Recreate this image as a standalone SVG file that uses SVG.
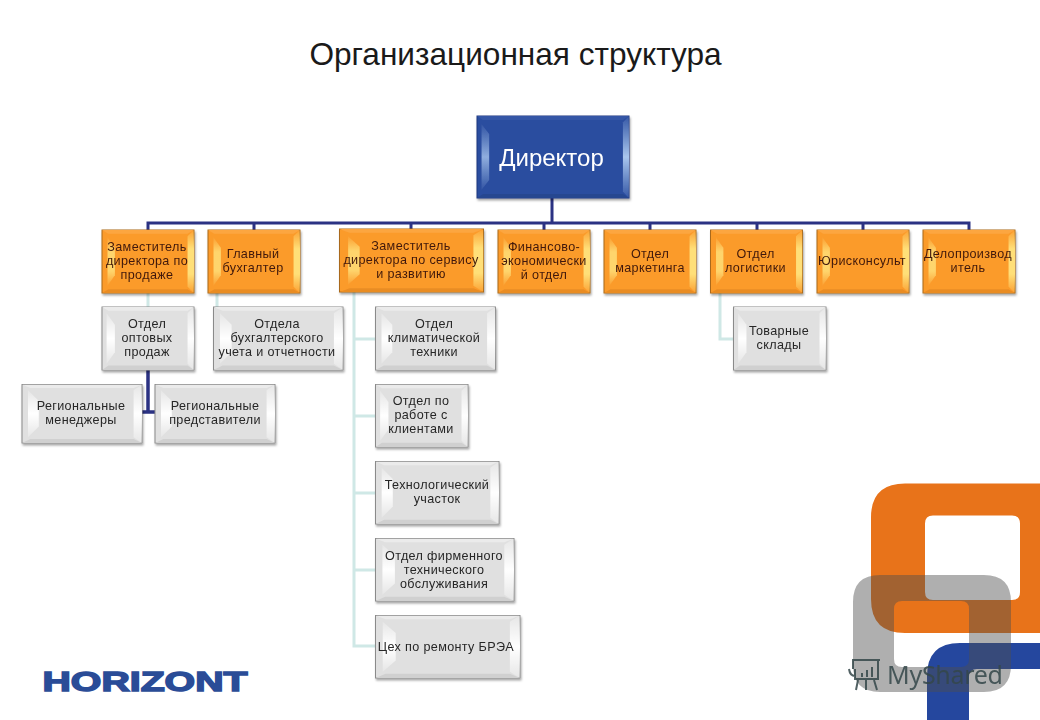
<svg xmlns="http://www.w3.org/2000/svg" xmlns:xlink="http://www.w3.org/1999/xlink" width="1040" height="720" viewBox="0 0 1040 720">
<style>
text{font-family:"Liberation Sans",Arial,sans-serif;text-anchor:middle}
.o{font-size:12.6px;fill:#40190a;letter-spacing:.35px}
.g{font-size:12.6px;fill:#262626;letter-spacing:.35px}
.bo{fill:#fb9b2c;stroke:#a9691c;stroke-width:1}
.bg{fill:#e0e0e0;stroke:#8a8a8a;stroke-width:1}
.bb{fill:#2b4d9f;stroke:#1f3a80;stroke-width:1}
.dark{fill:none;stroke:#2b3283;stroke-width:3}
.lite{fill:none;stroke:#cfe8e6;stroke-width:3}
</style>
<defs>
<filter id="sh" x="-10%" y="-10%" width="120%" height="125%"><feDropShadow dx="1" dy="2" stdDeviation="1.2" flood-color="#000" flood-opacity=".35"/></filter>
<linearGradient id="lo" x1="0" y1="0" x2="0" y2="1"><stop offset="0" stop-color="#ffdf78" stop-opacity=".1"/><stop offset=".3" stop-color="#ffdf78"/><stop offset=".7" stop-color="#ffdf78"/><stop offset="1" stop-color="#ffdf78" stop-opacity=".1"/></linearGradient>
<linearGradient id="lg" x1="0" y1="0" x2="0" y2="1"><stop offset="0" stop-color="#fff" stop-opacity=".2"/><stop offset=".5" stop-color="#fff"/><stop offset="1" stop-color="#fff" stop-opacity=".2"/></linearGradient>
<linearGradient id="lb" x1="0" y1="0" x2="0" y2="1"><stop offset="0" stop-color="#9fc0ea" stop-opacity=".1"/><stop offset=".5" stop-color="#a9c6ee"/><stop offset="1" stop-color="#9fc0ea" stop-opacity=".1"/></linearGradient>
<symbol id="vo" viewBox="0 0 100 100" preserveAspectRatio="none">
<polygon points="0,0 100,0 93,6 7,6" fill="#fca640"/><polygon points="0,100 100,100 93,94 7,94" fill="#e98c24"/>
<polygon points="100,0 100,100 93,90 93,10" fill="url(#lo)"/><polygon points="6,12 14,28 14,72 6,88" fill="url(#lo)" opacity=".85"/>
</symbol>
<symbol id="vg" viewBox="0 0 100 100" preserveAspectRatio="none">
<polygon points="0,0 100,0 93,6 7,6" fill="#ebebeb"/><polygon points="0,100 100,100 93,93 7,93" fill="#d0d0d0"/>
<polygon points="100,0 100,100 93,90 93,10" fill="url(#lg)"/><polygon points="5,10 14,28 14,72 5,90" fill="url(#lg)"/>
</symbol>
<symbol id="vb" viewBox="0 0 100 100" preserveAspectRatio="none">
<polygon points="0,0 100,0 96,5 4,5" fill="#3557a6"/><polygon points="0,100 100,100 96,95 4,95" fill="#264690"/>
<polygon points="100,0 100,100 96,92 96,8" fill="url(#lb)"/><polygon points="3,10 8,22 8,78 3,90" fill="url(#lb)" opacity=".8"/>
</symbol>
</defs>
<rect width="1040" height="720" fill="#fff"/>
<text x="515.500" y="65" font-size="31.600" fill="#1a1a1a">Организационная структура</text>

<g id="connectors">
<path class="lite" d="M148 293V307M217 293V307M354 292V646H375M354 339H375M354 416H375M354 493H375M354 570H375M720 293V339H733"/>
<path class="dark" d="M552 198V223M148 230V223H969V230M254 223V230M411 223V229M544 223V230M650 223V230M757 223V230M863 223V230"/>
<path class="dark" d="M148 370V412M142 412H155" style="stroke-width:3.500"/>
</g>

<g id="director" filter="url(#sh)"><rect class="bb" x="477" y="116" width="152" height="82"/><use href="#vb" x="477" y="116" width="152" height="82"/><text x="551.500" y="166" font-size="24" fill="#fff">Директор</text></g>

<g id="n1" filter="url(#sh)"><rect class="bo" x="102" y="230" width="92" height="63"/><use href="#vo" x="102" y="230" width="92" height="63"/><text class="o" x="147" y="251">Заместитель</text><text class="o" x="147" y="265">директора по</text><text class="o" x="147" y="279">продаже</text></g>
<g id="n2" filter="url(#sh)"><rect class="bo" x="208" y="230" width="92" height="63"/><use href="#vo" x="208" y="230" width="92" height="63"/><text class="o" x="253" y="258">Главный</text><text class="o" x="253" y="272">бухгалтер</text></g>
<g id="n3" filter="url(#sh)"><rect class="bo" x="339.500" y="229" width="144" height="63"/><use href="#vo" x="339.500" y="229" width="144" height="63"/><text class="o" x="411" y="250">Заместитель</text><text class="o" x="411" y="264">директора по сервису</text><text class="o" x="411" y="278">и развитию</text></g>
<g id="n4" filter="url(#sh)"><rect class="bo" x="498" y="230" width="92" height="63"/><use href="#vo" x="498" y="230" width="92" height="63"/><text class="o" x="544" y="251">Финансово-</text><text class="o" x="544" y="265">экономически</text><text class="o" x="544" y="279">й отдел</text></g>
<g id="n5" filter="url(#sh)"><rect class="bo" x="604" y="230" width="92" height="63"/><use href="#vo" x="604" y="230" width="92" height="63"/><text class="o" x="650" y="258">Отдел</text><text class="o" x="650" y="272">маркетинга</text></g>
<g id="n6" filter="url(#sh)"><rect class="bo" x="710.500" y="230" width="92" height="63"/><use href="#vo" x="710.500" y="230" width="92" height="63"/><text class="o" x="755.500" y="258">Отдел</text><text class="o" x="755.500" y="272">логистики</text></g>
<g id="n7" filter="url(#sh)"><rect class="bo" x="817" y="230" width="92" height="63"/><use href="#vo" x="817" y="230" width="92" height="63"/><text class="o" x="862" y="265">Юрисконсульт</text></g>
<g id="n8" filter="url(#sh)"><rect class="bo" x="923" y="230" width="92" height="63"/><use href="#vo" x="923" y="230" width="92" height="63"/><text class="o" x="968" y="258">Делопроизвод</text><text class="o" x="968" y="272">итель</text></g>

<g id="n9" filter="url(#sh)"><rect class="bg" x="102" y="307" width="92" height="63"/><use href="#vg" x="102" y="307" width="92" height="63"/><text class="g" x="147" y="328">Отдел</text><text class="g" x="147" y="342">оптовых</text><text class="g" x="147" y="356">продаж</text></g>
<g id="n10" filter="url(#sh)"><rect class="bg" x="213.500" y="307" width="129.500" height="63"/><use href="#vg" x="213.500" y="307" width="129.500" height="63"/><text class="g" x="277" y="328">Отдела</text><text class="g" x="277" y="342">бухгалтерского</text><text class="g" x="277" y="356">учета и отчетности</text></g>
<g id="n11" filter="url(#sh)"><rect class="bg" x="22" y="384.500" width="120" height="58.500"/><use href="#vg" x="22" y="384.500" width="120" height="58.500"/><text class="g" x="81" y="410">Региональные</text><text class="g" x="81" y="424">менеджеры</text></g>
<g id="n12" filter="url(#sh)"><rect class="bg" x="155" y="384.500" width="120" height="58.500"/><use href="#vg" x="155" y="384.500" width="120" height="58.500"/><text class="g" x="215" y="410">Региональные</text><text class="g" x="215" y="424">представители</text></g>
<g id="n13" filter="url(#sh)"><rect class="bg" x="375.500" y="307" width="120" height="63"/><use href="#vg" x="375.500" y="307" width="120" height="63"/><text class="g" x="434" y="328">Отдел</text><text class="g" x="434" y="342">климатической</text><text class="g" x="434" y="356">техники</text></g>
<g id="n14" filter="url(#sh)"><rect class="bg" x="375.500" y="384.500" width="92.500" height="62.500"/><use href="#vg" x="375.500" y="384.500" width="92.500" height="62.500"/><text class="g" x="421" y="405">Отдел по</text><text class="g" x="421" y="419">работе с</text><text class="g" x="421" y="433">клиентами</text></g>
<g id="n15" filter="url(#sh)"><rect class="bg" x="375.500" y="461.500" width="123.500" height="62.500"/><use href="#vg" x="375.500" y="461.500" width="123.500" height="62.500"/><text class="g" x="437" y="489">Технологический</text><text class="g" x="437" y="503">участок</text></g>
<g id="n16" filter="url(#sh)"><rect class="bg" x="375.500" y="538.500" width="138.500" height="62.500"/><use href="#vg" x="375.500" y="538.500" width="138.500" height="62.500"/><text class="g" x="444" y="560">Отдел фирменного</text><text class="g" x="444" y="574">технического</text><text class="g" x="444" y="588">обслуживания</text></g>
<g id="n17" filter="url(#sh)"><rect class="bg" x="375.500" y="615.500" width="144.500" height="62.500"/><use href="#vg" x="375.500" y="615.500" width="144.500" height="62.500"/><text class="g" x="446" y="651">Цех по ремонту БРЭА</text></g>
<g id="n18" filter="url(#sh)"><rect class="bg" x="733.500" y="307" width="92.500" height="63"/><use href="#vg" x="733.500" y="307" width="92.500" height="63"/><text class="g" x="779" y="335">Товарные</text><text class="g" x="779" y="349">склады</text></g>

<g id="corner-logo">
<path fill-rule="evenodd" fill="#e8731a" d="M905 483.500H1040V633H905Q871 633 871 599V517.500Q871 483.500 905 483.500ZM933 515.500Q925 515.500 925 523.500V592Q925 600 933 600H1012Q1020 600 1020 592V523.500Q1020 515.500 1012 515.500Z"/>
<path fill="#25479e" d="M1040 643H960Q927 643 927 676V720H969V677Q969 669 977 669H1040Z"/>
<path fill-rule="evenodd" fill="#4d4d4d" opacity=".45" d="M880 575H984Q1011 575 1011 602V665Q1011 692 984 692H880Q853 692 853 665V602Q853 575 880 575ZM902 601Q894 601 894 609V659Q894 667 902 667H961Q969 667 969 659V609Q969 601 961 601Z"/>
</g>
<g id="watermark" fill="none" stroke="#34474a" stroke-width="2" opacity=".85">
<path d="M852 660H880M853 660V669M878 660V679H855V669M849 669Q850 676 855 676M862 673V677M867 670V677M872 667V677M858 680L856 690M866 680V690M874 680L877 690"/>
<text x="945" y="684" font-size="25" fill="#34474a" stroke="none" textLength="116" style="font-family:'Noto Sans','Open Sans',sans-serif">MyShared</text>
</g>
<text id="horizont" x="145" y="691" font-size="28" font-weight="700" fill="#2a4c97" stroke="#2a4c97" stroke-width="1.500" textLength="205" lengthAdjust="spacingAndGlyphs">HORIZONT</text>
</svg>
